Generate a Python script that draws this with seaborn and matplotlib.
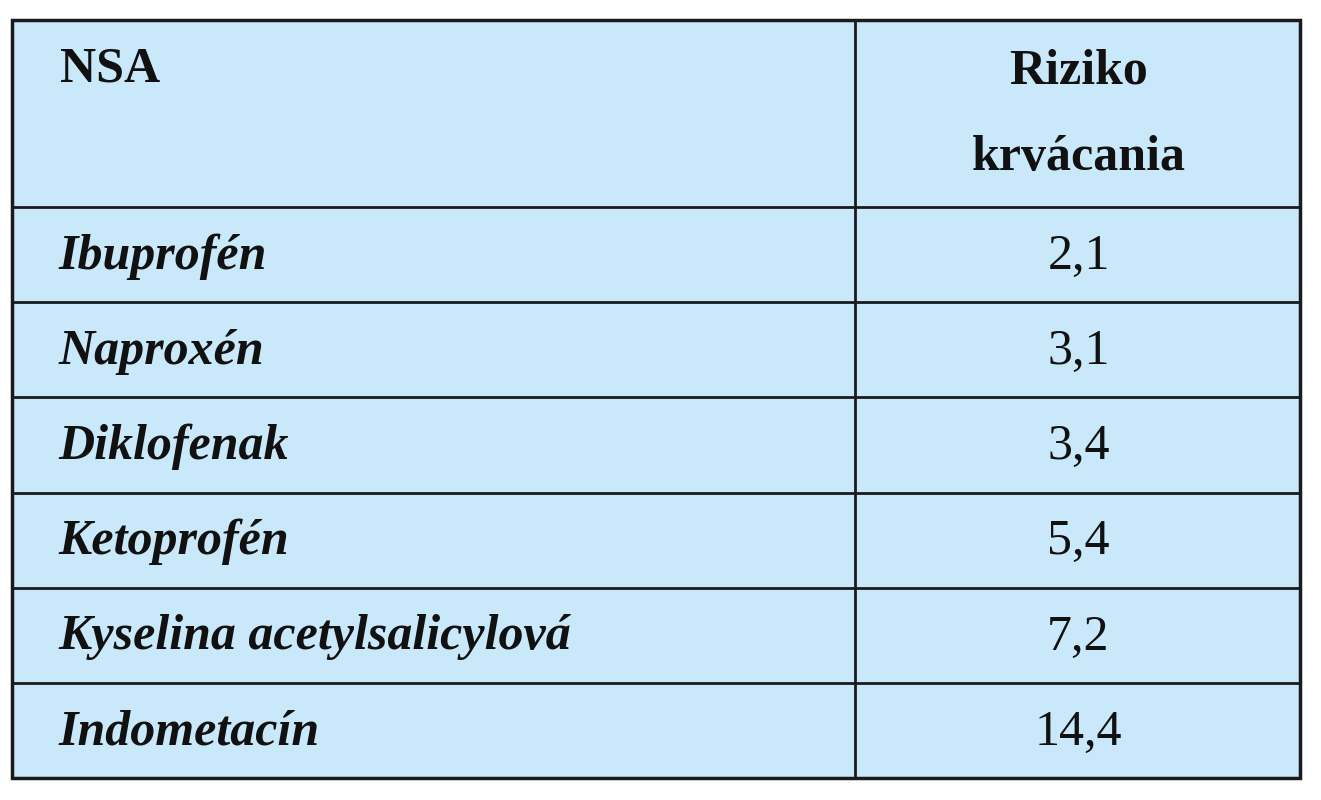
import matplotlib
matplotlib.use("Agg")
import matplotlib.pyplot as plt
import seaborn as sns
from matplotlib.patches import Rectangle

sns.set_theme(style="white")
plt.rcParams['font.family'] = ['Liberation Serif', 'DejaVu Serif']

header_left = "NSA"
header_right = ["Riziko", "krvácania"]
drugs = ["Ibuprofén", "Naproxén", "Diklofenak", "Ketoprofén",
         "Kyselina acetylsalicylová", "Indometacín"]
risks = ["2,1", "3,1", "3,4", "5,4", "7,2", "14,4"]

W, H = 1321, 800
fig = plt.figure(figsize=(W/100, H/100), dpi=100)
ax = fig.add_axes([0, 0, 1, 1])
ax.set_xlim(0, W); ax.set_ylim(H, 0); ax.axis("off")

bg = "#C9E9FA"; lc = "#1a1a1a"; fs = 36
x0, x1, xm = 12, 1300, 855
y0, yh = 20, 207
rh = (778 - yh) / len(drugs)

ax.add_patch(Rectangle((x0, y0), x1-x0, yh-y0+rh*len(drugs), facecolor=bg,
                       edgecolor=lc, lw=2.5))
ax.plot([xm, xm], [y0, yh+rh*len(drugs)], color=lc, lw=2)
ax.plot([x0, x1], [yh, yh], color=lc, lw=2)
for i in range(1, len(drugs)):
    ax.plot([x0, x1], [yh+rh*i]*2, color=lc, lw=2)

cx = (xm + x1) / 2 + 1
ax.text(60, 70, header_left, fontsize=fs, fontweight="bold", va="center", color="#111")
ax.text(cx, 72, header_right[0], fontsize=fs, fontweight="bold", va="center", ha="center", color="#111")
ax.text(cx, 158, header_right[1], fontsize=fs, fontweight="bold", va="center", ha="center", color="#111")
for i, (d, r) in enumerate(zip(drugs, risks)):
    yc = yh + rh*(i+0.5) + 2
    ax.text(58, yc, d, fontsize=fs, fontweight="bold", fontstyle="italic", va="center", color="#111")
    ax.text(cx, yc, r, fontsize=fs, va="center", ha="center", color="#111")

fig.savefig("out.png", dpi=100, facecolor="white")
